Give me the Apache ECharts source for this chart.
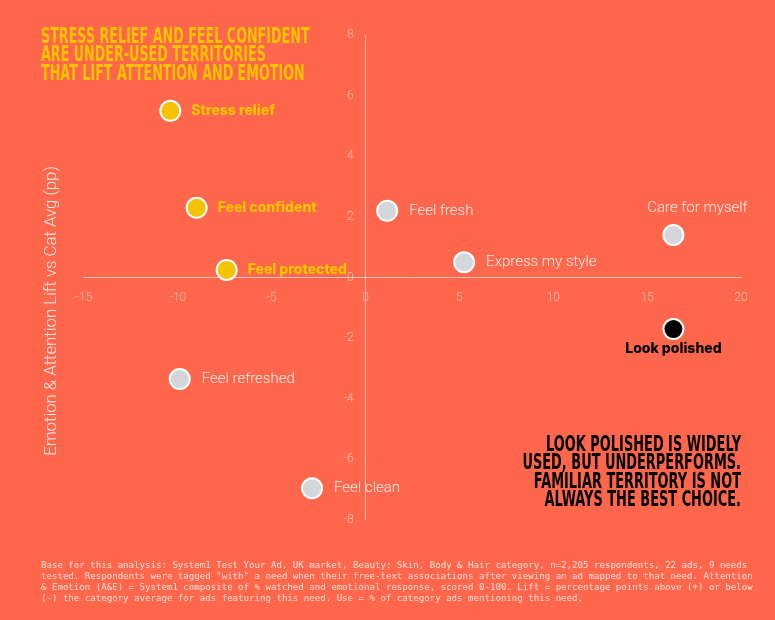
<!DOCTYPE html>
<html>
<head>
<meta charset="utf-8">
<script src="https://cdn.jsdelivr.net/npm/echarts@6/dist/echarts.min.js"></script>
<style>
html,body{margin:0;padding:0;background:#fe674c;}
#chart{width:775px;height:620px;}
</style>
</head>
<body>
<div id="chart"></div>
<script>
var needs = ['Stress relief','Feel confident','Feel protected','Feel fresh','Express my style','Care for myself','Look polished','Feel refreshed','Feel clean'];
var useLift = [-10.4, -9.0, -7.4, 1.15, 5.25, 16.4, 16.4, -9.9, -2.85];
var aeLift = [5.5, 2.3, 0.25, 2.2, 0.5, 1.4, -1.7, -3.35, -6.95];
var groups = ['hi','hi','hi','std','std','std','neg','std','std'];
var xTicks = {min:-15, max:20, interval:5};
var yTicks = {min:-8, max:8, interval:2};

var BG = '#fe674c';
var YEL = '#f5c300';
var GRAY = '#d3d6da';
var LIGHT = 'rgba(255,255,255,0.88)';
var TICK = 'rgba(255,255,255,0.55)';
var AXIS = 'rgba(255,255,255,0.6)';
var GRID = {left:84, right:34, top:35, bottom:100};
var H = 620;

var data = needs.map(function(n, i){
  var g = groups[i];
  var item = {name:n, value:[useLift[i], aeLift[i]]};
  if (g === 'hi') {
    item.itemStyle = {color:YEL};
    item.label = {position:'right', distance:10, color:YEL, fontWeight:800, fontSize:14, fontFamily:'Inter, Roboto, sans-serif'};
  } else if (g === 'neg') {
    item.itemStyle = {color:'#000'};
    item.label = {position:'bottom', distance:2, color:'#000', fontWeight:800, fontSize:14, fontFamily:'Inter, Roboto, sans-serif'};
  } else {
    item.itemStyle = {color:GRAY};
    item.label = {position:'right', distance:11, color:LIGHT, fontSize:15, fontWeight:300, fontFamily:'Roboto, sans-serif'};
  }
  if (n === 'Care for myself') {
    item.label.position = 'top';
    item.label.distance = 8;
    item.label.offset = [24, 0];
  }
  return item;
});

function axisCommon(t, margin){
  return {
    type:'value', min:t.min, max:t.max, interval:t.interval,
    axisLine:{show:true, onZero:false, lineStyle:{color:AXIS, width:1}},
    axisTick:{show:false},
    splitLine:{show:false},
    axisLabel:{color:TICK, fontSize:12, fontWeight:300, fontFamily:'Roboto, sans-serif', margin:margin, showMaxLabel:true, showMinLabel:true, hideOverlap:false}
  };
}

var chart = echarts.init(document.getElementById('chart'));
chart.setOption({
  backgroundColor: BG,
  animation: false,
  grid: GRID,
  xAxis: axisCommon(xTicks, 14),
  yAxis: axisCommon(yTicks, 12),
  series: [{
    type:'scatter',
    symbolSize:20,
    itemStyle:{borderColor:'#fff', borderWidth:2, opacity:1},
    label:{show:true, formatter:'{b}'},
    data:data
  }],
  graphic: [
    {type:'text', x:41, y:28, scaleX:0.606, style:{
      text:'STRESS RELIEF AND FEEL CONFIDENT\nARE UNDER-USED TERRITORIES\nTHAT LIFT ATTENTION AND EMOTION',
      fill:YEL, font:'bold 21px "DejaVu Sans", sans-serif', lineHeight:18.5}},
    {type:'text', x:741, y:436, scaleX:0.631, style:{
      text:'LOOK POLISHED IS WIDELY\nUSED, BUT UNDERPERFORMS.\nFAMILIAR TERRITORY IS NOT\nALWAYS THE BEST CHOICE.',
      fill:'#000', align:'right', font:'bold 20.5px "DejaVu Sans", sans-serif', lineHeight:18.5}},
    {type:'text', x:52, y:311, rotation:Math.PI/2, style:{
      text:'Emotion & Attention Lift vs Cat Avg (pp)', fill:LIGHT, align:'center', verticalAlign:'middle',
      font:'300 16.8px Roboto, sans-serif'}},
    {type:'text', x:41, y:560, style:{
      text:'Base for this analysis: System1 Test Your Ad, UK market, Beauty: Skin, Body & Hair category, n=2,205 respondents, 22 ads, 9 needs\ntested. Respondents were tagged "with" a need when their free-text associations after viewing an ad mapped to that need. Attention\n& Emotion (A&E) = System1 composite of % watched and emotional response, scored 0-100. Lift = percentage points above (+) or below\n(-) the category average for ads featuring this need. Use = % of category ads mentioning this need.',
      fill:'rgba(255,235,228,0.9)', font:'9.1px "DejaVu Sans Mono", monospace', lineHeight:11}}
  ]
});

// Move both axes (line and labels) so they cross at zero, like the reference.
var zero = chart.convertToPixel({gridIndex:0}, [0, 0]);
chart.setOption({
  yAxis: {offset: -(zero[0] - GRID.left)},
  xAxis: {offset: -((H - GRID.bottom) - zero[1])}
});
</script>
</body>
</html>
